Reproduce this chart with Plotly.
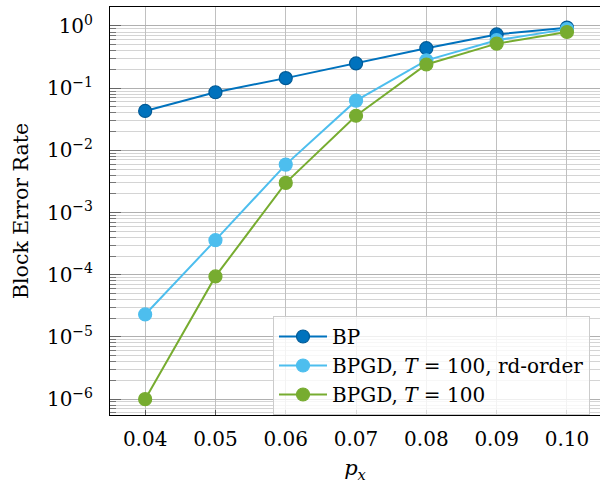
import plotly.graph_objects as go

p_x = [0.04, 0.05, 0.06, 0.07, 0.08, 0.09, 0.10]
bp = [0.043, 0.086, 0.145, 0.25, 0.44, 0.73, 0.94]
bpgd_rd = [2.3e-5, 3.6e-4, 5.9e-3, 0.063, 0.28, 0.59, 0.89]
bpgd = [1.0e-6, 9.4e-5, 3.0e-3, 0.036, 0.24, 0.52, 0.80]

x_ticks = [0.04, 0.05, 0.06, 0.07, 0.08, 0.09, 0.10]
x_ticktext = ["0.04", "0.05", "0.06", "0.07", "0.08", "0.09", "0.10"]
y_ticks = [1e-6, 1e-5, 1e-4, 1e-3, 1e-2, 1e-1, 1]
y_ticktext = ["10<sup>−6</sup>", "10<sup>−5</sup>", "10<sup>−4</sup>", "10<sup>−3</sup>",
              "10<sup>−2</sup>", "10<sup>−1</sup>", "10<sup>0</sup>"]

FONT = "DejaVu Serif"

series = [
    ("BP", bp, "#0072BD", "#005A96"),
    ("BPGD, <i>T</i> = 100, rd-order", bpgd_rd, "#4DBEEE", "#4DBEEE"),
    ("BPGD, <i>T</i> = 100", bpgd, "#77AC30", "#77AC30"),
]

fig = go.Figure()
for name, ys, col, edge in series:
    fig.add_trace(go.Scatter(
        x=p_x, y=ys, name=name, mode="lines+markers",
        line=dict(color=col, width=2),
        marker=dict(size=13, color=col, line=dict(color=edge, width=1.2)),
    ))

fig.update_layout(
    width=600, height=484,
    margin=dict(l=110, r=0, t=7, b=69),
    plot_bgcolor="white", paper_bgcolor="white",
    font=dict(family=FONT, size=20, color="black"),
    showlegend=True,
    legend=dict(
        x=(273 - 110) / 490, y=0.0, xanchor="left", yanchor="bottom",
        bgcolor="rgba(255,255,255,0.8)", bordercolor="#cccccc", borderwidth=1,
        font=dict(family=FONT, size=20), tracegroupgap=0, itemwidth=48,
    ),
    xaxis=dict(
        range=[0.035, 0.1047], automargin=False,
        tickvals=x_ticks, ticktext=x_ticktext,
        showgrid=True, gridcolor="#c0c0c0", gridwidth=1,
        showline=True, linecolor="black", linewidth=1, mirror=True,
        ticks="inside", ticklen=5, tickcolor="#555",
        ticklabelstandoff=6,
        title=dict(text="<i>p<sub>x</sub></i>", font=dict(size=21), standoff=10),
        zeroline=False,
    ),
    yaxis=dict(
        type="log", range=[-6.255, 0.305], automargin=False,
        tickvals=y_ticks, ticktext=y_ticktext,
        showgrid=True, gridcolor="#b0b0b0", gridwidth=1,
        showline=True, linecolor="black", linewidth=1, mirror=True,
        ticks="inside", ticklen=11, tickcolor="#666",
        ticklabelstandoff=12,
        minor=dict(dtick="D1", showgrid=True, gridcolor="#d4d4d4", gridwidth=1,
                   ticks="inside", ticklen=6, tickcolor="#777"),
        title=dict(text="Block Error Rate", font=dict(size=20.5), standoff=12),
        zeroline=False,
    ),
)

fig.write_html("out.html", post_script="document.body.style.margin='0';",
               config={"displayModeBar": False})
